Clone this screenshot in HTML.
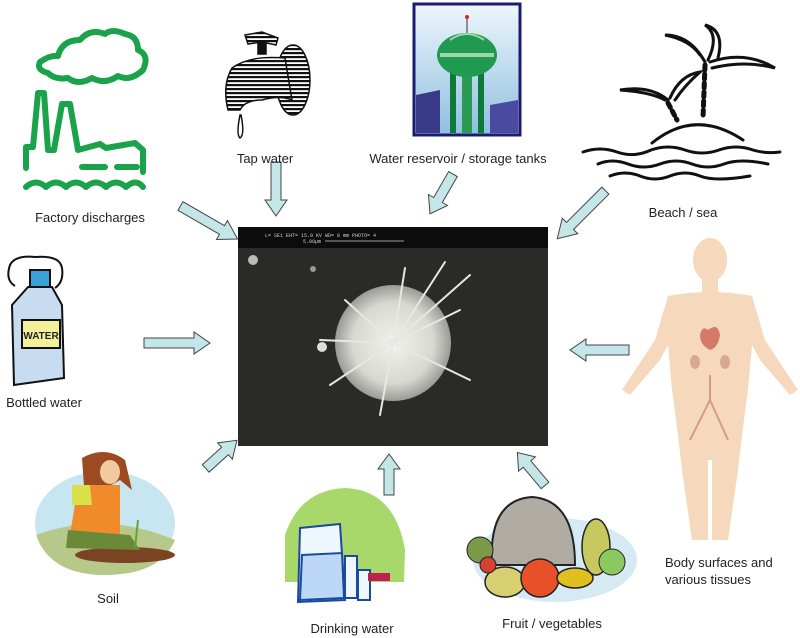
<!DOCTYPE html>
<html><head><meta charset="utf-8"><style>
html,body{margin:0;padding:0;background:#fff;}
svg{display:block;font-family:"Liberation Sans",Arial,sans-serif;}
</style></head><body>
<svg width="800" height="638" viewBox="0 0 800 638" xmlns="http://www.w3.org/2000/svg">
<defs>
<radialGradient id="cell" cx="50%" cy="50%" r="50%">
<stop offset="0" stop-color="#f2f2ee"/><stop offset="0.7" stop-color="#d8d8d2"/><stop offset="1" stop-color="#9a9a96"/>
</radialGradient>
<linearGradient id="sky" x1="0" y1="0" x2="0" y2="1"><stop offset="0" stop-color="#eef6fb"/><stop offset="1" stop-color="#8fbfe0"/></linearGradient>
<pattern id="hatch" width="4" height="4" patternUnits="userSpaceOnUse"><rect width="4" height="4" fill="#fff"/><rect width="4" height="2.2" fill="#111"/></pattern>
</defs>

<!-- central photo -->
<rect x="238" y="227" width="310" height="219" fill="#2a2a28"/>
<rect x="238" y="227" width="310" height="21" fill="#0c0c0c"/>
<text x="265" y="237" font-size="5" fill="#ccc" font-family="Liberation Mono,monospace">L= SE1   EHT= 15.0 KV   WD= 8    mm              PHOTO= 4</text>
<text x="303" y="243" font-size="5" fill="#ccc" font-family="Liberation Mono,monospace">5.00μm</text>
<line x1="325" y1="241" x2="404" y2="241" stroke="#ccc" stroke-width="0.7"/>
<circle cx="393" cy="343" r="58" fill="url(#cell)"/>
<g stroke="#e8e8e2" stroke-width="2" stroke-linecap="round">
<line x1="393" y1="343" x2="445" y2="262"/><line x1="393" y1="343" x2="470" y2="275"/><line x1="393" y1="343" x2="405" y2="268"/>
<line x1="393" y1="343" x2="320" y2="340"/><line x1="393" y1="343" x2="470" y2="380"/><line x1="393" y1="343" x2="330" y2="385"/>
<line x1="393" y1="343" x2="460" y2="310"/><line x1="393" y1="343" x2="380" y2="415"/><line x1="393" y1="343" x2="345" y2="300"/>
</g>
<circle cx="253" cy="260" r="5" fill="#bbb"/><circle cx="313" cy="269" r="3" fill="#999"/><circle cx="322" cy="347" r="5" fill="#ddd"/>

<!-- arrows -->
<g fill="#c4e6e9" stroke="#444" stroke-width="1">
<path d="M0,-5 L-48,-5 L-48,5 L0,5 L0,11 L18,0 L0,-11 Z" transform="translate(222,230) rotate(30)"/>
<path d="M0,-5 L-38,-5 L-38,5 L0,5 L0,11 L16,0 L0,-11 Z" transform="translate(276,200) rotate(90)"/>
<path d="M0,-5 L-30,-5 L-30,5 L0,5 L0,11 L16,0 L0,-11 Z" transform="translate(438,200) rotate(120)"/>
<path d="M0,-5 L-50,-5 L-50,5 L0,5 L0,11 L18,0 L0,-11 Z" transform="translate(570,226) rotate(135)"/>
<path d="M0,-5 L-50,-5 L-50,5 L0,5 L0,11 L16,0 L0,-11 Z" transform="translate(194,343)"/>
<path d="M0,-5 L-43,-5 L-43,5 L0,5 L0,11 L16,0 L0,-11 Z" transform="translate(586,350) rotate(180)"/>
<path d="M0,-5 L-26,-5 L-26,5 L0,5 L0,11 L16,0 L0,-11 Z" transform="translate(225,451) rotate(-42)"/>
<path d="M0,-5 L-26,-5 L-26,5 L0,5 L0,11 L15,0 L0,-11 Z" transform="translate(389,469) rotate(-90)"/>
<path d="M0,-5 L-28,-5 L-28,5 L0,5 L0,11 L15,0 L0,-11 Z" transform="translate(527,464) rotate(-130)"/>
</g>

<!-- factory -->
<g fill="none" stroke="#1aa34a" stroke-width="6" stroke-linecap="round" stroke-linejoin="round">
<path d="M48,73 Q36,70 40,62 Q50,55 58,56 Q62,40 80,40 Q90,28 105,34 Q112,28 125,34 Q138,36 138,50 Q150,55 143,70 Q130,82 118,76 Q105,85 92,78 Q78,86 68,78 Q55,80 48,73 Z"/>
<path d="M26,168 L26,147 L33,147 L38,93 L44,93 L48,150 L54,150 L62,104 L70,104 L78,150 L100,144 L106,148 L135,143 L143,150 L143,172"/>
<path d="M82,167 L105,167 M117,167 L137,167"/>
<path d="M26,187 Q36,178 46,187 Q56,178 66,187 Q76,178 86,187 Q96,178 106,187 Q116,178 126,187 Q136,178 143,187"/>
</g>
<text x="90" y="222" font-size="13" text-anchor="middle" fill="#222">Factory discharges</text>

<!-- tap -->
<g stroke="#111" stroke-width="1.5">
<path d="M245,35 L262,32 L278,38 L276,45 L262,42 L248,44 Z" fill="url(#hatch)"/>
<rect x="258" y="42" width="8" height="12" fill="#111"/>
<ellipse cx="293" cy="80" rx="17" ry="35" fill="url(#hatch)"/>
<path d="M232,68 Q250,55 285,58 L292,100 Q280,95 262,100 Q245,100 240,110 L228,110 Q222,85 232,68 Z" fill="url(#hatch)"/>
<path d="M240,115 Q236,135 240,138 Q245,135 241,115 Z" fill="#fff"/>
</g>
<text x="265" y="163" font-size="13" text-anchor="middle" fill="#222">Tap water</text>

<!-- reservoir -->
<rect x="414" y="4" width="106" height="131" fill="url(#sky)" stroke="#1c1c6e" stroke-width="3"/>
<polygon points="416,133 416,95 440,90 440,133" fill="#3a3a8a"/>
<polygon points="490,133 490,105 518,100 518,133" fill="#4a4aa0"/>
<rect x="450" y="70" width="6" height="63" fill="#0e7a3a"/><rect x="478" y="70" width="6" height="63" fill="#0e7a3a"/>
<rect x="462" y="70" width="10" height="63" fill="#2a9a55"/>
<ellipse cx="467" cy="55" rx="30" ry="22" fill="#1f9a50"/>
<path d="M440,55 L494,55" stroke="#9fd8a8" stroke-width="4"/>
<path d="M450,40 Q467,28 484,40" stroke="#9fd8a8" stroke-width="2" fill="none"/>
<line x1="467" y1="33" x2="467" y2="18" stroke="#333"/><circle cx="467" cy="17" r="2" fill="#d22"/>
<text x="458" y="163" font-size="13" text-anchor="middle" fill="#222">Water reservoir / storage tanks</text>

<!-- beach -->
<g stroke="#111" stroke-width="3" fill="none" stroke-linecap="round">
<path d="M652,143 Q695,108 743,140"/>
<path d="M705,65 L703,118" stroke-dasharray="5,4" stroke-width="5"/>
<path d="M668,103 L677,120" stroke-dasharray="5,4" stroke-width="5"/>
<path d="M705,62 Q690,35 665,35 Q690,40 700,55 M708,60 Q720,35 705,25 Q725,30 718,58 M710,62 Q745,50 775,68 Q745,60 712,68"/>
<path d="M668,100 Q650,85 620,90 Q650,92 665,100 M670,98 Q680,75 700,72 Q685,85 675,100"/>
<path d="M583,152 Q600,146 617,152 Q634,158 651,150 Q668,144 685,150 Q702,156 719,150 Q736,144 753,150 Q766,154 780,152"/>
<path d="M598,164 Q612,158 628,164 Q644,170 660,164 Q676,158 692,164 Q708,170 724,164 Q740,158 768,164"/>
<path d="M610,176 Q625,170 640,176 Q655,182 670,176 Q685,170 700,176 Q715,182 750,176"/>
</g>
<text x="683" y="217" font-size="13" text-anchor="middle" fill="#222">Beach / sea</text>

<!-- bottle -->
<g stroke="#111" stroke-width="2">
<path d="M15,286 Q5,280 10,265 Q15,255 35,257 Q60,255 62,268 Q64,282 55,288" fill="none"/>
<rect x="30" y="270" width="20" height="17" fill="#3aa0d8"/>
<path d="M28,287 L52,287 L62,305 L64,378 L14,385 L12,305 Z" fill="#c8dcf0"/>
<rect x="22" y="320" width="38" height="28" fill="#f4f09a"/>
</g>
<text x="41" y="339" font-size="10" font-weight="bold" text-anchor="middle" fill="#222">WATER</text>
<text x="44" y="407" font-size="13" text-anchor="middle" fill="#222">Bottled water</text>

<!-- body -->
<g fill="#f6d9bc">
<ellipse cx="710" cy="260" rx="17" ry="22"/>
<rect x="702" y="278" width="16" height="18"/>
<path d="M668,296 Q710,288 752,296 L765,340 L798,390 L790,395 L760,360 L752,345 L748,390 Q745,410 738,470 L728,540 L712,540 L712,460 L708,460 L708,540 L692,540 L682,470 Q675,410 672,390 L668,345 L660,360 L630,395 L622,390 L655,340 Z"/>
</g>
<path d="M708,330 Q718,322 720,335 Q718,348 710,350 Q700,345 700,335 Q702,325 708,330 Z" fill="#d47a6a"/>
<ellipse cx="695" cy="362" rx="5" ry="7" fill="#d9a890"/><ellipse cx="725" cy="362" rx="5" ry="7" fill="#d9a890"/>
<path d="M710,375 L710,400 L690,440 M710,400 L728,440" stroke="#d89a88" stroke-width="2" fill="none"/>
<text x="665" y="567" font-size="13" fill="#222">Body surfaces and</text>
<text x="665" y="584" font-size="13" fill="#222">various tissues</text>

<!-- soil -->
<ellipse cx="105" cy="523" rx="70" ry="52" fill="#c8e6f2"/>
<path d="M36,535 Q105,510 175,540 Q160,575 105,575 Q50,575 36,535 Z" fill="#b7c98a"/>
<ellipse cx="125" cy="555" rx="50" ry="8" fill="#7a4422"/>
<path d="M82,458 Q105,445 125,460 L132,490 L120,480 L85,500 Z" fill="#9b4a22"/>
<ellipse cx="110" cy="472" rx="10" ry="12" fill="#f3c9a0"/>
<path d="M78,485 L120,485 L120,535 L70,535 Z" fill="#f08a2a"/>
<path d="M72,485 L90,485 L92,505 L72,505 Z" fill="#d8e04a"/>
<path d="M68,530 L130,535 L140,550 L66,548 Z" fill="#6a8a3a"/>
<path d="M135,548 L138,520" stroke="#5aa83a" stroke-width="2"/>
<text x="108" y="603" font-size="13" text-anchor="middle" fill="#222">Soil</text>

<!-- drinking water -->
<path d="M285,582 L285,535 Q300,490 345,488 Q395,490 405,550 L404,582 Z" fill="#a8d86a"/>
<g stroke="#1a4aa0" stroke-width="2" fill="#eef6ff">
<path d="M300,528 L340,524 L345,600 L298,602 Z"/>
<path d="M302,555 L342,553 L344,598 L300,600 Z" fill="#bcd8f6"/>
<rect x="345" y="556" width="12" height="42"/>
<rect x="358" y="570" width="12" height="30"/>
</g>
<rect x="368" y="573" width="22" height="8" fill="#c02050"/>
<text x="352" y="633" font-size="13" text-anchor="middle" fill="#222">Drinking water</text>

<!-- fruit -->
<ellipse cx="555" cy="560" rx="82" ry="42" fill="#d6eaf4"/>
<path d="M492,565 Q488,500 532,497 Q575,500 575,565 Z" fill="#b0aca4" stroke="#222" stroke-width="2"/>
<circle cx="480" cy="550" r="13" fill="#7a9a4a" stroke="#222"/>
<ellipse cx="505" cy="582" rx="20" ry="15" fill="#d8d070" stroke="#222" stroke-width="1.5"/>
<circle cx="540" cy="578" r="19" fill="#e8502a" stroke="#222" stroke-width="1.5"/>
<ellipse cx="596" cy="547" rx="14" ry="28" fill="#c8c860" stroke="#222" stroke-width="1.5"/>
<ellipse cx="575" cy="578" rx="18" ry="10" fill="#e0c020" stroke="#222" stroke-width="1.5"/>
<circle cx="612" cy="562" r="13" fill="#8ac860" stroke="#222"/>
<circle cx="488" cy="565" r="8" fill="#d84030" stroke="#222"/>
<text x="552" y="628" font-size="13" text-anchor="middle" fill="#222">Fruit / vegetables</text>
</svg>
</body></html>
